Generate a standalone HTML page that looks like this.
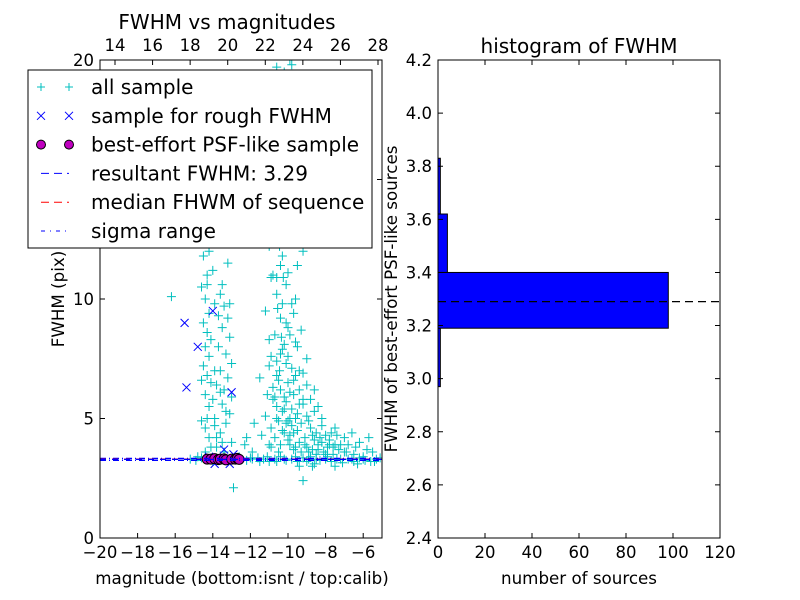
<!DOCTYPE html>
<html><head><meta charset="utf-8"><style>
html,body{margin:0;padding:0;background:#fff}
svg{display:block;font-family:"DejaVu Sans","Liberation Sans",sans-serif}
</style></head><body>
<svg id="c" width="800" height="600" viewBox="0 0 800 600"></svg>
<script>
const allPts=[[-15.2,3.3],[-14.9,3.25],[-14.6,3.35],[-14.2,3.3],[-13.8,3.28],[-13.5,3.32],[-13.1,3.3],[-12.8,3.35],[-12.5,3.3],[-12.2,3.25],[-11.9,3.3],[-11.6,3.35],[-11.3,3.3],[-11.0,3.2],[-10.7,3.3],[-10.4,3.4],[-10.1,3.25],[-9.8,3.3],[-9.5,3.2],[-9.2,3.35],[-8.9,3.3],[-8.6,3.1],[-8.3,3.25],[-8.0,3.3],[-7.7,3.2],[-7.4,3.3],[-7.1,3.15],[-6.8,3.3],[-6.5,3.2],[-6.2,3.35],[-5.9,3.25],[-5.6,3.2],[-5.3,3.3],[-5.1,3.35],
[-14.5,19.0],[-14.4,18.5],[-14.6,17.6],[-14.4,17.0],[-14.5,16.2],[-14.3,15.5],[-14.4,14.8],[-14.5,14.0],[-14.3,13.2],[-14.4,12.5],[-14.5,11.8],[-14.3,11.0],[-14.6,10.5],[-14.4,10.0],[-14.2,9.4],[-14.5,9.0],[-14.3,8.6],[-14.4,8.0],[-14.2,7.6],[-14.5,7.2],[-14.3,6.8],[-14.1,6.5],[-14.4,6.0],[-14.2,5.5],[-14.3,5.0],[-14.4,4.6],[-14.2,4.2],[-14.1,3.8],[-13.9,9.8],[-13.6,10.2],[-13.4,9.7],[-13.2,9.2],[-13.5,8.8],[-13.1,8.4],[-13.7,8.0],[-13.3,7.7],[-13.0,7.3],[-13.6,7.0],[-13.2,6.7],[-13.8,6.4],[-13.4,6.2],[-13.0,5.9],[-13.5,5.6],[-13.1,5.2],[-13.9,5.0],[-13.3,4.8],[-13.6,4.4],[-13.0,4.0],[-13.8,3.8],[-13.4,3.6],[-13.2,11.5],[-13.7,12.3],[-13.4,14.0],[-13.9,4.7],
[-10.6,19.7],[-9.8,19.8],[-10.2,19.5],[-11.0,19.2],[-10.5,18.8],[-10.0,18.5],[-10.8,18.0],[-9.6,17.5],[-10.3,17.2],[-10.9,16.8],[-10.1,16.2],[-10.6,15.8],[-9.7,15.3],[-10.4,14.9],[-11.1,14.5],[-10.2,14.0],[-10.7,13.6],[-9.9,13.1],[-10.5,12.7],[-11.0,12.2],[-10.3,11.8],[-9.5,11.4],[-10.8,11.0],[-10.1,10.6],[-10.6,10.2],[-9.8,9.8],[-11.2,9.5],[-10.4,9.2],[-10.0,8.8],[-10.7,8.5],[-9.6,8.2],[-10.3,7.9],[-10.9,7.6],[-10.1,7.3],[-9.4,7.0],[-10.6,6.8],[-10.0,6.5],[-10.4,6.2],[-9.7,6.0],[-10.8,5.8],[-9.2,5.6],[-10.2,5.4],[-9.5,5.2],[-10.6,5.0],[-8.9,4.9],[-9.8,4.7],[-10.3,4.5],[-8.5,4.4],[-9.1,4.2],[-10.0,4.1],[-8.2,4.0],[-7.8,3.9],[-9.6,3.8],[-8.7,3.7],[-7.3,3.7],[-10.5,3.6],[-9.3,3.6],[-8.0,3.5],[-6.9,3.6],[-6.5,3.5],[-11.4,4.3],[-11.8,4.8],[-11.5,6.7],[-11.0,7.2],[-9.0,6.4],[-8.6,5.3],[-7.5,4.6],[-7.0,4.2],[-6.2,4.0],[-5.8,3.7],[-9.3,8.7],[-10.9,10.9],[-9.2,12.0],[-11.3,16.5],[-9.9,20.0],[-10.45,7.0],[-10.2,5.9],[-9.9,5.0],[-9.7,4.4],[-9.4,4.0],[-9.0,3.8],[-8.4,3.9],[-7.6,3.5],[-8.8,3.4],[-9.9,3.9],[-10.1,4.8],[-10.6,5.5],[-10.35,8.4],[-10.55,9.6],[-10.25,10.9],[-10.45,12.2],[-10.15,13.5],[-10.65,14.4],[-10.35,16.0],[-10.75,17.0],
[-16.2,10.1],[-12.9,2.1],[-9.2,2.4],[-12.3,3.9],[-11.9,3.6],[-12.2,4.2],
[-10.9,3.8],[-10.7,4.2],[-10.5,4.9],[-10.3,5.3],[-10.1,5.7],[-9.9,6.1],[-9.7,6.6],[-10.8,6.3],[-10.6,7.4],[-10.4,7.7],[-10.2,8.1],[-10.0,7.6],[-9.8,7.1],[-9.6,6.8],[-9.4,6.2],[-9.2,5.8],[-9.0,5.1],[-8.8,4.6],[-8.6,4.1],[-8.4,3.7],[-8.2,4.7],[-8.0,4.3],[-7.8,4.1],[-7.6,3.8],[-7.4,4.3],[-7.2,3.9],[-7.0,3.6],[-6.8,3.9],[-6.6,4.4],[-6.4,3.8],[-6.0,3.4],[-5.7,4.2],[-5.5,3.6],[-9.9,4.3],[-9.7,3.7],[-9.5,4.5],[-9.3,4.8],[-9.1,3.9],[-8.9,3.6],[-8.7,4.3],[-8.5,3.5],[-8.3,4.2],[-8.1,3.6],[-7.9,3.8],[-7.7,4.4],[-7.5,3.9],[-10.4,3.9],[-10.2,4.4],[-10.0,4.9],[-9.8,5.4],[-9.6,5.0],[-9.4,5.6],[-9.2,6.9],[-9.0,7.5],[-8.8,5.8],[-8.6,6.2],[-8.4,5.5],[-8.2,5.0],[-10.7,5.9],[-10.5,6.6],[-10.3,9.8],[-10.1,9.0],[-9.9,8.5],[-9.7,9.4],[-9.5,8.0],[-10.6,10.9],[-10.4,11.4],[-10.2,12.5],[-10.0,11.1],[-9.8,12.4],[-9.6,10.0],[-10.7,12.9],[-10.5,13.9],[-10.3,15.2],[-10.1,14.6],[-9.9,16.4],[-10.8,15.0],[-10.6,17.7],[-10.4,18.3],[-10.2,16.8],[-9.7,18.9],[-11.0,8.3],[-11.1,6.0],[-11.2,5.1],[-10.9,4.6],[-11.0,3.9],
[-14.2,12.0],[-14.0,11.2],[-14.3,10.6],[-13.9,7.0],[-13.6,6.1],[-13.3,5.3],[-13.7,9.3],[-13.1,9.8],[-13.5,10.6],[-14.1,8.3],[-14.6,6.6],[-14.0,5.8],[-13.8,4.2],[-13.5,4.0],[-14.4,3.6],[-14.6,4.9],
[-14.8,3.4],[-14.0,3.2],[-12.6,3.4],[-12.0,3.35],[-11.5,3.2],[-11.1,3.4],[-10.6,3.2],[-10.2,3.3],[-9.6,3.4],[-9.0,3.2],[-8.5,3.3],[-7.9,3.4],[-7.2,3.3],[-6.6,3.3],[-6.0,3.3],[-5.4,3.2],[-8.7,3.0],[-7.5,3.0],[-9.4,3.0],[-6.3,3.1]];
const roughPts=[[-15.5,9.0],[-14.0,9.5],[-14.8,8.0],[-15.4,6.3],[-13.0,6.1],[-13.4,3.7],[-13.9,3.1],[-12.9,3.5],[-13.1,3.1],[-14.2,3.4]];
const psfPts=[[-14.3,3.3],[-14.1,3.3],[-13.9,3.32],[-13.7,3.28],[-13.6,3.3],[-13.4,3.31],[-13.3,3.27],[-13.0,3.3],[-12.8,3.3],[-12.7,3.33],[-12.6,3.29]];
const resultFWHM=3.29, medianFWHM=3.30, sigmaLo=3.25, sigmaHi=3.33;
const leftXTicks=[-20,-18,-16,-14,-12,-10,-8,-6];
const leftYTicks=[0,5,10,15,20];
const topTicks=[14,16,18,20,22,24,26,28];
const binEdges=[2.97,3.19,3.40,3.62,3.83];
const binCounts=[1,98,4,1];
const histXTicks=[0,20,40,60,80,100,120];
const histYTicks=[2.4,2.6,2.8,3.0,3.2,3.4,3.6,3.8,4.0,4.2];

const S=document.getElementById('c'),NS='http://www.w3.org/2000/svg';
function el(t,a,p){const e=document.createElementNS(NS,t);for(const k in a)e.setAttribute(k,a[k]);(p||S).appendChild(e);return e;}
function tx(x,y,s,size,anchor,extra,p){const e=el('text',Object.assign({x:x,y:y,'font-size':size,'text-anchor':anchor||'middle',fill:'#000'},extra||{}),p);e.textContent=s;return e;}
const L={x0:100,x1:382,y0:60,y1:538};
const lx=v=>L.x0+(v+20)/15*(L.x1-L.x0);
const ly=v=>L.y1-v/20*(L.y1-L.y0);
const tpx=v=>115+(v-14)/14*(378-115);
const gL=el('g',{});


const defs=el('defs',{});const cp=el('clipPath',{id:'cl'},defs);el('rect',{x:L.x0,y:L.y0,width:L.x1-L.x0,height:L.y1-L.y0},cp);
const gp=el('g',{'clip-path':'url(#cl)'},gL);
allPts.forEach(p=>{const x=lx(p[0]),y=ly(p[1]);const e=el('path',{d:`M${x-4.5} ${y}H${x+4.5}M${x} ${y-4.5}V${y+4.5}`,stroke:'#00bfbf','stroke-width':1},gp);

});
roughPts.forEach(p=>{const x=lx(p[0]),y=ly(p[1]);const e=el('path',{d:`M${x-4} ${y-4}L${x+4} ${y+4}M${x-4} ${y+4}L${x+4} ${y-4}`,stroke:'#0000ff','stroke-width':1},gp);

});
psfPts.forEach(p=>{const e=el('circle',{cx:lx(p[0]),cy:ly(p[1]),r:5,fill:'#bf00bf',stroke:'#000','stroke-width':1},gp);

});
[[sigmaLo,'#0000ff','6,3,1,3'],[sigmaHi,'#0000ff','6,3,1,3'],[medianFWHM,'#ff0000','6,6'],[resultFWHM,'#0000ff','6,6']].forEach(a=>{const e=el('line',{x1:L.x0,x2:L.x1,y1:ly(a[0]),y2:ly(a[0]),stroke:a[1],'stroke-width':1.3,'stroke-dasharray':a[2]},gp);

});
el('rect',{x:L.x0,y:L.y0,width:L.x1-L.x0,height:L.y1-L.y0,fill:'none',stroke:'#000','stroke-width':1},gL);
leftXTicks.forEach(v=>{const x=lx(v);el('path',{d:`M${x} ${L.y1}v-5`,stroke:'#000'},gL);const t=tx(x,558,'\u2212'+Math.abs(v),16.5,'middle',{},gL);

});
topTicks.forEach(v=>{const x=tpx(v);el('path',{d:`M${x} ${L.y0}v5`,stroke:'#000'},gL);const t=tx(x,51,String(v),16.5,'middle',{},gL);

});
leftYTicks.forEach(v=>{const y=ly(v);el('path',{d:`M${L.x0} ${y}h5M${L.x1} ${y}h-5`,stroke:'#000'},gL);const t=tx(L.x0-6,y+6,String(v),16.5,'end',{},gL);

});
let t=tx(227,29,'FWHM vs magnitudes',20);
t=tx(242,584,'magnitude (bottom:isnt / top:calib)',16.7);
t=tx(64,299,'FWHM (pix)',16.7,'middle',{transform:'rotate(-90 64 299)'});
const lg=el('g',{});


el('rect',{x:28,y:70,width:344,height:178,fill:'#fff',stroke:'#000'},lg);
const ent=[['all sample','plus'],['sample for rough FWHM','x'],['best-effort PSF-like sample','dot'],['resultant FWHM: 3.29','bdash'],['median FHWM of sequence','rdash'],['sigma range','dashdot']];
ent.forEach((e,i)=>{const y=87+i*28.8;const g=el('g',{},lg);


[41,69].forEach(x=>{if(e[1]=='plus')el('path',{d:`M${x-4} ${y}H${x+4}M${x} ${y-4}V${y+4}`,stroke:'#00bfbf'},g);
else if(e[1]=='x')el('path',{d:`M${x-4} ${y-4}L${x+4} ${y+4}M${x-4} ${y+4}L${x+4} ${y-4}`,stroke:'#0000ff'},g);
else if(e[1]=='dot')el('circle',{cx:x,cy:y,r:4.5,fill:'#bf00bf',stroke:'#000'},g);});
if(e[1]=='bdash'||e[1]=='rdash')el('line',{x1:41,x2:69,y1:y,y2:y,stroke:e[1]=='bdash'?'#0000ff':'#ff0000','stroke-dasharray':'8,5'},g);
if(e[1]=='dashdot')el('line',{x1:41,x2:69,y1:y,y2:y,stroke:'#0000ff','stroke-dasharray':'4,5,1,5'},g);
tx(91,y+7,e[0],20,'start',{},g);});
const R={x0:438,x1:720,y0:60,y1:538};
const hx=v=>R.x0+v/120*(R.x1-R.x0);
const hy=v=>R.y1-(v-2.4)/1.8*(R.y1-R.y0);
const gH=el('g',{});


binCounts.forEach((c,i)=>{const y1=hy(binEdges[i+1]),y2=hy(binEdges[i]);const e=el('rect',{x:hx(0),y:y1,width:hx(c)-hx(0),height:y2-y1,fill:'#0000ff',stroke:'#000','stroke-width':1},gH);

});
let dl=el('line',{x1:R.x0,x2:R.x1,y1:hy(resultFWHM),y2:hy(resultFWHM),stroke:'#000','stroke-width':1.3,'stroke-dasharray':'8,5'},gH);


el('rect',{x:R.x0,y:R.y0,width:R.x1-R.x0,height:R.y1-R.y0,fill:'none',stroke:'#000'},gH);
histXTicks.forEach(v=>{const x=hx(v);el('path',{d:`M${x} ${R.y1}v-5M${x} ${R.y0}v5`,stroke:'#000'},gH);const t=tx(x,558,String(v),16.5,'middle',{},gH);

});
histYTicks.forEach(v=>{const y=hy(v);el('path',{d:`M${R.x0} ${y}h5M${R.x1} ${y}h-5`,stroke:'#000'},gH);const t=tx(R.x0-6,y+6,v.toFixed(1),16.5,'end',{},gH);

});
t=tx(579,53,'histogram of FWHM',20);
t=tx(579,584,'number of sources',16.7);
t=tx(397,299,'FWHM of best-effort PSF-like sources',16.7,'middle',{transform:'rotate(-90 397 299)'});
</script>
</body></html>
